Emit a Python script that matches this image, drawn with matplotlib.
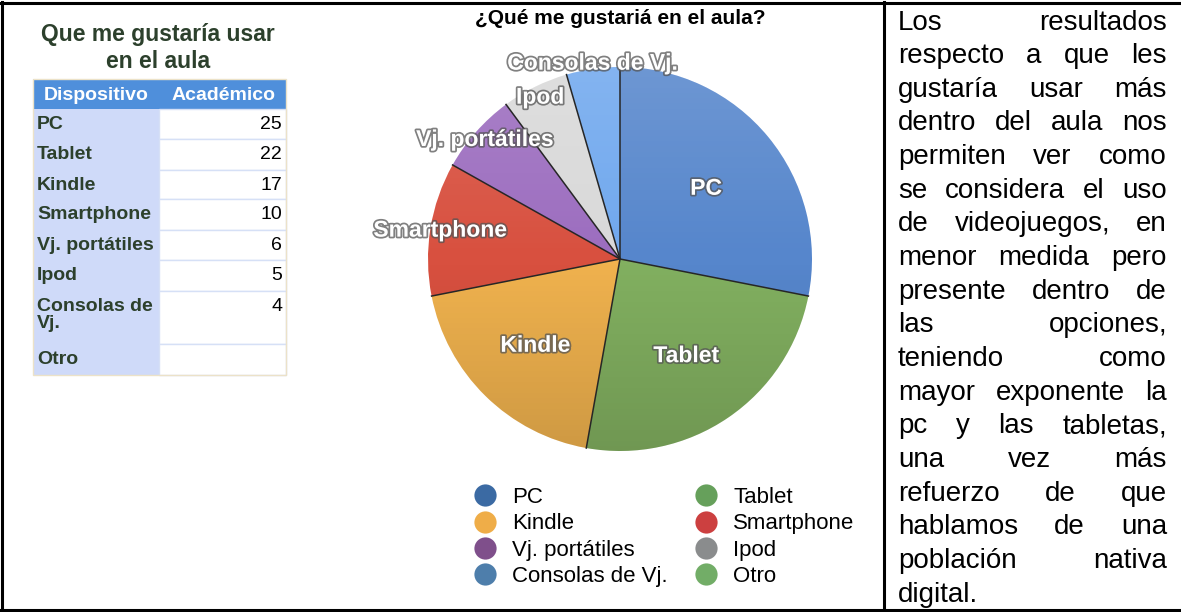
import matplotlib
matplotlib.use("Agg")
import matplotlib.pyplot as plt
import matplotlib.patheffects as pe
from matplotlib.patches import Rectangle
from matplotlib.lines import Line2D
import numpy as np

plt.rcParams['font.family'] = ['Liberation Sans', 'DejaVu Sans']

# datos
dispositivos = ["PC", "Tablet", "Kindle", "Smartphone", "Vj. portátiles", "Ipod", "Consolas de Vj.", "Otro"]
academico = [25, 22, 17, 10, 6, 5, 4, None]
tabla_labels = ["PC", "Tablet", "Kindle", "Smartphone", "Vj. portátiles", "Ipod", "Consolas de\nVj.", "Otro"]

slice_colors = ["#5686cc", "#82b060", "#f0b24e", "#d8503f", "#9c6dbf", "#d9d9d9", "#70a8ee"]
legend_colors = ["#3b6aa3", "#66a05b", "#efad48", "#cc4040", "#7f4f8b", "#8a8c8d", "#4e7eab", "#72ad67"]
label_dist = [0.58, 0.61, 0.63, 0.95, 0.94, 0.94, 1.03]

texto = [
    "Los resultados",
    "respecto a que les",
    "gustaría usar más",
    "dentro del aula nos",
    "permiten ver como",
    "se considera el uso",
    "de videojuegos, en",
    "menor medida pero",
    "presente dentro de",
    "las opciones,",
    "teniendo como",
    "mayor exponente la",
    "pc y las tabletas,",
    "una vez más",
    "refuerzo de que",
    "hablamos de una",
    "población nativa",
    "digital.",
]

W, H = 1181, 612
fig = plt.figure(figsize=(W / 100, H / 100), dpi=100)

# overlay axes in pixel coordinates
ov = fig.add_axes([0, 0, 1, 1])
ov.set_xlim(0, W)
ov.set_ylim(H, 0)
ov.axis("off")

# frame lines
ov.plot([1.5, 1.5], [2, 610], color="black", lw=2.2)
ov.plot([0, W], [2.5, 2.5], color="black", lw=2.2)
ov.plot([0, W], [609.5, 609.5], color="black", lw=2.2)
ov.plot([884, 884], [2, 610], color="black", lw=2.2)

# ---- table ----
green_dark = "#2c402c"
ov.text(158, 34, "Que me gustaría usar", ha="center", va="center",
        fontsize=16.5, fontweight="bold", color=green_dark)
ov.text(158, 62, "en el aula", ha="center", va="center",
        fontsize=16.5, fontweight="bold", color=green_dark)

tx0, tsplit, tx1 = 33, 159, 286
row_edges = [79, 109, 139, 170, 199, 230, 260, 291, 344, 375]
ov.add_patch(Rectangle((tx0, row_edges[0]), tx1 - tx0, row_edges[1] - row_edges[0],
                       facecolor="#4f8fdb", edgecolor="none"))
ov.text((tx0 + tsplit) / 2, 95, "Dispositivo", ha="center", va="center",
        fontsize=14, fontweight="bold", color="white")
ov.text((tsplit + tx1) / 2 + 1, 95, "Académico", ha="center", va="center",
        fontsize=14, fontweight="bold", color="white")
for i, (lab, val) in enumerate(zip(tabla_labels, academico)):
    top, bot = row_edges[i + 1], row_edges[i + 2]
    ov.add_patch(Rectangle((tx0, top), tsplit - tx0, bot - top,
                           facecolor="#cfdaf9", edgecolor="none"))
    ov.add_patch(Rectangle((tsplit, top), tx1 - tsplit, bot - top,
                           facecolor="white", edgecolor="#d6e0f6", lw=1))
    ov.text(tx0 + 4, top + 7, lab, ha="left", va="top", fontsize=14,
            fontweight="bold", color=green_dark, linespacing=1.0)
    if val is not None:
        ov.text(tx1 - 4, top + 7, str(val), ha="right", va="top",
                fontsize=14, color="black")
ov.add_patch(Rectangle((tx0, row_edges[0]), tx1 - tx0, row_edges[-1] - row_edges[0],
                       facecolor="none", edgecolor="#ece2c8", lw=1))

# ---- pie ----
title = "¿Qué me gustariá en el aula?"
ov.text(620, 18, title, ha="center", va="center", fontsize=15,
        fontweight="bold", color="black")

cx, cy, r = 620, 259, 192
pax = fig.add_axes([(cx - r) / W, 1 - (cy + r) / H, 2 * r / W, 2 * r / H])
vals = [v for v in academico if v is not None]
wedges, _ = pax.pie(vals, colors=slice_colors, startangle=90, counterclock=False,
                    wedgeprops=dict(edgecolor="none", linewidth=0))

# soft vertical shading
grad = np.linspace(0, 1, 256).reshape(-1, 1)
shade = np.zeros((256, 1, 4))
shade[..., :3] = np.where(grad[..., None] < 0.5, 1.0, 0.0)
shade[..., 3] = (np.abs(grad - 0.5) * 0.28)
im = pax.imshow(shade, extent=[-1, 1, -1, 1], origin="upper", aspect="auto", zorder=3)
circ = plt.Circle((0, 0), 1, transform=pax.transData)
im.set_clip_path(circ)

# dark radial separators
for w in wedges:
    a = np.deg2rad(w.theta1)
    pax.plot([0, np.cos(a)], [0, np.sin(a)], color="#262626", lw=1.1, zorder=4)
pax.set_xlim(-1, 1)
pax.set_ylim(-1, 1)
pax.axis("off")

stroke = [pe.withStroke(linewidth=2.5, foreground="#555555", alpha=0.75)]
for w, lab, d in zip(wedges, dispositivos, label_dist):
    ang = np.deg2rad((w.theta1 + w.theta2) / 2)
    pax.text(d * np.cos(ang), d * np.sin(ang), lab, ha="center", va="center",
             fontsize=16.5, fontweight="bold", color="white", path_effects=stroke,
             zorder=5, clip_on=False)

# legend
order = [0, 2, 4, 6, 1, 3, 5, 7]
handles = [Line2D([], [], marker="o", linestyle="none", markersize=16,
                  markerfacecolor=legend_colors[i], markeredgecolor="none")
           for i in order]
fig.legend(handles, [dispositivos[i] for i in order], ncol=2, loc="upper left",
           bbox_to_anchor=(474 / W, 1 - 487 / H), frameon=False, fontsize=16,
           handlelength=1.0, handletextpad=0.73, columnspacing=1.2,
           labelspacing=0.24, borderpad=0, borderaxespad=0)

# ---- justified text ----
fig.canvas.draw()
renderer = fig.canvas.get_renderer()
x0, x1 = 898, 1167
fs = 20
for i, line in enumerate(texto):
    y = 29.5 + 33.65 * i
    words = line.split()
    arts = [ov.text(0, y, wd, ha="left", va="baseline", fontsize=fs, color="black")
            for wd in words]
    widths = [a.get_window_extent(renderer).width for a in arts]
    if i == len(texto) - 1 or len(words) == 1:
        gap = fs * 100 / 72 * 0.28
    else:
        gap = (x1 - x0 - sum(widths)) / (len(words) - 1)
    x = x0
    for a, wdt in zip(arts, widths):
        a.set_x(x)
        x += wdt + gap

fig.savefig("out.png", dpi=100)
